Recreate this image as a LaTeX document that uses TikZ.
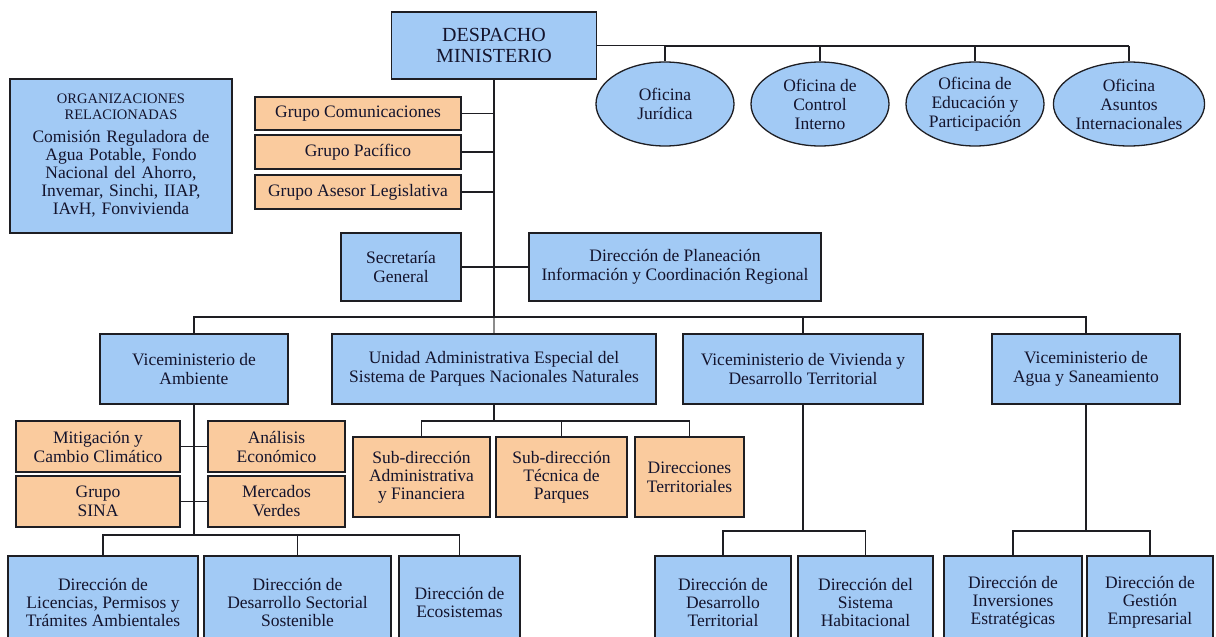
\documentclass[tikz,border=0pt]{standalone}
\usepackage{fontspec}
\setmainfont{Liberation Serif}
\usetikzlibrary{shapes.geometric}
\definecolor{boxblue}{RGB}{162,202,245}
\definecolor{boxorange}{RGB}{250,203,158}
\definecolor{inkline}{RGB}{30,30,35}
\definecolor{inktext}{RGB}{20,20,45}

\begin{document}
\begin{tikzpicture}[x=1pt,y=-1pt,
  unit/.style={draw=inkline, line width=1.3pt, inner sep=0pt, align=center,
    text=inktext, font=\fontsize{17.5}{19}\selectfont},
  bluebox/.style={unit, fill=boxblue},
  orangebox/.style={unit, fill=boxorange},
  office/.style={unit, ellipse, fill=boxblue, minimum width=138pt, minimum height=84pt},
  wd/.style={minimum width=#1pt},
  ht/.style={minimum height=#1pt},
  link/.style={draw=inkline, line width=1.3pt},
  softlink/.style={draw=black!45, line width=1.3pt},
  lowtext/.style={font=\fontsize{17.5}{18}\selectfont}
]
\useasboundingbox (0,0) rectangle (1216,637);
\clip (0,0) rectangle (1216,637);

% top level
\node[bluebox, wd=205, ht=67, font=\fontsize{20}{21}\selectfont] (desp) at (494,45.5) {DESPACHO\\MINISTERIO};

% advisory offices
\node[office] (juridica)  at (665,104) {Oficina\\Jurídica};
\node[office] (control)   at (820,104) {Oficina de\\Control\\Interno};
\node[office] (educacion) at (975,104) {Oficina de\\Educación y\\Participación};
\node[office] (asuntos)   at (1129,104) {Oficina\\Asuntos\\Internacionales};

% related organisations
\node[bluebox, wd=222, ht=154, text width=215pt] (orgs) at (121,156)
  {{\fontsize{14.5}{16}\selectfont ORGANIZACIONES\\RELACIONADAS\par}\vspace{5pt}%
   \fontsize{17.5}{18}\selectfont Comisión Reguladora de\\Agua Potable, Fondo\\Nacional del Ahorro,\\Invemar, Sinchi, IIAP,\\IAvH, Fonvivienda\par};

% groups attached to the trunk
\node[orangebox, wd=206, ht=33] (gcom) at (358,113.5) {Grupo Comunicaciones};
\node[orangebox, wd=206, ht=34] (gpac) at (358,152) {Grupo Pacífico};
\node[orangebox, wd=206, ht=34] (gase) at (358,192) {Grupo Asesor Legislativa};

% general secretariat and planning
\node[bluebox, wd=120, ht=68] (secr) at (401,267) {Secretaría\\General};
\node[bluebox, wd=292, ht=68] (plan) at (675,267) {Dirección de Planeación\\Información y Coordinación Regional};

% second level
\node[bluebox, wd=188, ht=70] (vamb)  at (194,369) {Viceministerio de\\Ambiente};
\node[bluebox, wd=324, ht=70] (uae)   at (494,369) {Unidad Administrativa Especial del\\Sistema de Parques Nacionales Naturales};
\node[bluebox, wd=240, ht=70] (vviv)  at (803,369) {Viceministerio de Vivienda y\\Desarrollo Territorial};
\node[bluebox, wd=188, ht=70] (vagua) at (1086,369) {Viceministerio de\\Agua y Saneamiento};

% parks units
\node[orangebox, wd=137, ht=80, lowtext] (sadm) at (421.5,477) {Sub-dirección\\Administrativa\\y Financiera};
\node[orangebox, wd=131, ht=80, lowtext] (stec) at (561.5,477) {Sub-dirección\\Técnica de\\Parques};
\node[orangebox, wd=109, ht=80] (dterr) at (689.5,477) {Direcciones\\Territoriales};

% environment groups
\node[orangebox, wd=164, ht=51] (mitig) at (98,446.5) {Mitigación y\\Cambio Climático};
\node[orangebox, wd=137, ht=51] (anal)  at (276.5,446.5) {Análisis\\Económico};
\node[orangebox, wd=164, ht=51] (sina)  at (98,501.5) {Grupo\\SINA};
\node[orangebox, wd=137, ht=51] (merc)  at (276.5,501.5) {Mercados\\Verdes};

% directorates
\node[bluebox, wd=190, ht=92, lowtext] (lic)  at (103,602) {Dirección de\\Licencias, Permisos y\\Trámites Ambientales};
\node[bluebox, wd=187, ht=92, lowtext] (dss)  at (297.5,602) {Dirección de\\Desarrollo Sectorial\\Sostenible};
\node[bluebox, wd=121, ht=92, lowtext] (eco)  at (459.5,602) {Dirección de\\Ecosistemas};
\node[bluebox, wd=136, ht=92, lowtext] (ddt)  at (723,602) {Dirección de\\Desarrollo\\Territorial};
\node[bluebox, wd=135, ht=92, lowtext] (dsh)  at (865.5,602) {Dirección del\\Sistema\\Habitacional};
\node[bluebox, wd=138, ht=92, lowtext] (die)  at (1013,602) {Dirección de\\Inversiones\\Estratégicas};
\node[bluebox, wd=126, ht=92, lowtext] (dge)  at (1150,602) {Dirección de\\Gestión\\Empresarial};

% junction points
\coordinate (officebus) at (1129,46);
\coordinate (mainbus) at (494,317);
\coordinate (parkbus) at (494,421);
\coordinate (envbus) at (194,535);
\coordinate (vivbus) at (803,531);
\coordinate (aguabus) at (1086,531);

% connectors
\path[link] (desp.east) -- (desp.east -| officebus)
  (juridica.north) |- (officebus) (control.north) |- (officebus)
  (educacion.north) |- (officebus) (asuntos.north) -- (officebus);
\path[link] (desp.south) -- (mainbus);
\path[softlink] (mainbus) -- (uae.north);
\path[link] (gcom.east) -- (gcom.east -| mainbus)
  (gpac.east) -- (gpac.east -| mainbus)
  (gase.east) -- (gase.east -| mainbus);
\path[link] (secr.east) -- (plan.west);
\path[link] (vamb.north) |- (mainbus) -| (vagua.north)
  (vviv.north) |- (mainbus);
\path[link] (uae.south) -- (parkbus)
  (sadm.north) |- (parkbus) -| (dterr.north)
  (stec.north) |- (parkbus);
\path[link] (vamb.south) -- (envbus)
  (mitig.east) -- (anal.west)
  (sina.east) -- (merc.west)
  (lic.north) |- (envbus) -| (eco.north)
  (dss.north) |- (envbus);
\path[link] (vviv.south) -- (vivbus)
  (ddt.north) |- (vivbus) -| (dsh.north);
\path[link] (vagua.south) -- (aguabus)
  (die.north) |- (aguabus) -| (dge.north);
\end{tikzpicture}
\end{document}
